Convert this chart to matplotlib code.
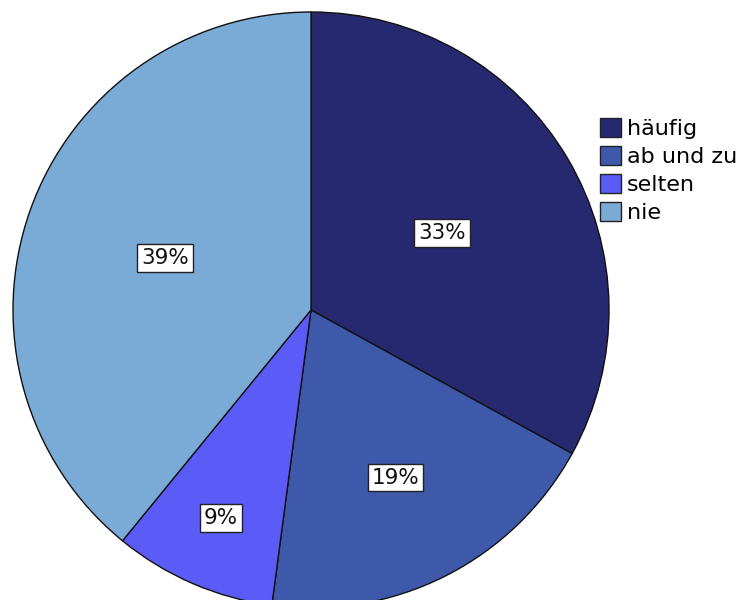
import numpy as np
import matplotlib
matplotlib.use("Agg")
import matplotlib.pyplot as plt
from matplotlib.patches import Patch

# Share of respondents per answer category
categories = ["häufig", "ab und zu", "selten", "nie"]
shares = [33.0, 19.1, 8.8, 39.1]
colors = ["#262870", "#3E58AA", "#5B5CF8", "#7AAAD6"]
# radial placement of each percentage label (fraction of the radius)
label_radius = [0.51, 0.63, 0.76, 0.52]

fig = plt.figure(figsize=(7.47, 6.0), dpi=100)
ax = fig.add_axes([13 / 747, -8 / 600, 596 / 747, 596 / 600])

wedges, _ = ax.pie(
    shares,
    colors=colors,
    startangle=90,
    counterclock=False,
    radius=1.0,
    wedgeprops=dict(edgecolor="#111111", linewidth=1.0),
)
ax.set_xlim(-1, 1)
ax.set_ylim(-1, 1)
ax.set_aspect("equal")
ax.axis("off")

for w, val, r in zip(wedges, shares, label_radius):
    mid = np.deg2rad((w.theta1 + w.theta2) / 2)
    ax.text(
        r * np.cos(mid), r * np.sin(mid), f"{val:.0f}%",
        ha="center", va="center", fontsize=15.5, color="#111111",
        bbox=dict(boxstyle="square,pad=0.18", facecolor="white",
                  edgecolor="#222222", linewidth=1.0),
    )

handles = [Patch(facecolor=c, edgecolor="#222222", linewidth=1.0) for c in colors]
fig.legend(
    handles, categories,
    loc="upper left", bbox_to_anchor=(600 / 747, 1 - 118 / 600),
    frameon=False, fontsize=16, borderpad=0, borderaxespad=0,
    handlelength=0.95, handleheight=0.95, handletextpad=0.25,
    labelspacing=0.3,
)

fig.savefig("out.png", dpi=100)
